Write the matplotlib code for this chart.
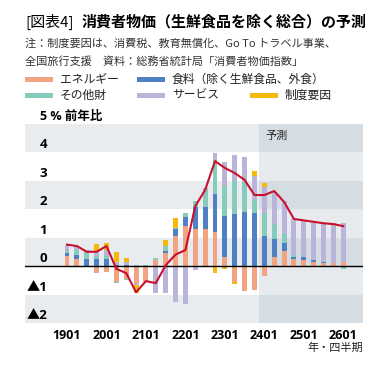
import matplotlib.pyplot as plt
from matplotlib.patches import Rectangle
import numpy as np

plt.rcParams['font.family'] = ['Noto Sans CJK JP', 'DejaVu Sans']

# quarters 2019Q1 .. 2026Q1
quarters = ['1901', '1902', '1903', '1904', '2001', '2002', '2003', '2004',
            '2101', '2102', '2103', '2104', '2201', '2202', '2203', '2204',
            '2301', '2302', '2303', '2304', '2401', '2402', '2403', '2404',
            '2501', '2502', '2503', '2504', '2601']
tick_labels = ['1901', '2001', '2101', '2201', '2301', '2401', '2501', '2601']

# contributions (% pt)
energy = [0.35, 0.25, -0.05, -0.25, -0.2, -0.55, -0.45, -0.6, -0.55, 0.22,
          0.47, 1.05, 1.4, 1.3, 1.3, 1.18, 0.3, -0.55, -0.88, -0.85,
          -0.35, 0.3, 0.53, 0.25, 0.2, 0.15, 0.1, 0.1, 0.15]
food = [0.1, 0.15, 0.25, 0.25, 0.25, 0.05, 0.05, 0.0, 0.0, 0.0,
        0.05, 0.25, 0.33, 0.77, 0.77, 1.33, 1.45, 1.81, 1.88, 1.85,
        1.05, 0.63, 0.29, 0.05, 0.1, 0.05, 0.05, 0.0, 0.0]
other = [0.08, 0.15, 0.2, 0.1, 0.1, -0.05, -0.05, 0.05, 0.05, 0.07,
         0.17, 0.05, 0.12, 0.2, 0.6, 1.2, 1.05, 1.17, 1.05, 0.45,
         0.81, 0.53, 0.29, 0.1, 0.0, 0.0, 0.0, -0.05, -0.12]
services = [0.22, 0.15, 0.1, 0.18, 0.2, 0.1, 0.1, -0.05, 0.0, -0.93,
            -0.93, -1.28, -1.33, -0.13, 0.05, 0.25, 0.84, 0.93, 0.88, 0.85,
            0.91, 1.12, 1.17, 1.25, 1.3, 1.35, 1.35, 1.4, 1.37]
policy = [0, 0, 0, 0.25, 0.25, 0.35, 0.12, -0.28, 0, 0,
          0.22, 0.35, 0, 0, 0, -0.23, -0.12, -0.07, 0, 0.18,
          0.14, 0, 0, 0, 0, 0, 0, 0, 0]
# core CPI (y/y %)
core = [0.75, 0.7, 0.5, 0.5, 0.7, -0.1, -0.25, -0.92, -0.53, -0.6,
        0.03, 0.4, 0.56, 2.1, 2.67, 3.68, 3.44, 3.26, 3.02, 2.49,
        2.49, 2.63, 2.25, 1.65, 1.6, 1.55, 1.5, 1.47, 1.4]

names = ['エネルギー', '食料（除く生鮮食品、外食）', 'その他財', 'サービス', '制度要因']
colors = ['#f2a482', '#4f80c3', '#86cbbb', '#bab4da', '#f5b90a']
series = [energy, food, other, services, policy]

W, H = 387, 373
fig = plt.figure(figsize=(W / 100, H / 100), dpi=100)
ax = fig.add_axes([25 / W, 1 - 323 / H, 338 / W, 199.5 / H])

x = np.arange(len(quarters))
x0, x1 = -4.26, 30.0
fc = 19.5  # forecast start
ax.set_xlim(x0, x1)
ax.set_ylim(-2, 5)

# background bands
for k in range(-2, 5):
    dark = (k % 2 == 0)
    ax.add_patch(Rectangle((x0, k), fc - x0, 1, color='#e9ecef' if dark else 'white', lw=0, zorder=0))
    ax.add_patch(Rectangle((fc, k), x1 - fc, 1, color='#d6dde2' if dark else '#e8ebee', lw=0, zorder=0))

pos = np.zeros(len(x))
neg = np.zeros(len(x))
for vals, c in zip(series, colors):
    v = np.array(vals, dtype=float)
    p = np.where(v > 0, v, 0)
    n = np.where(v < 0, v, 0)
    ax.bar(x, p, 0.5, bottom=pos, color=c, lw=0, zorder=2)
    ax.bar(x, n, 0.5, bottom=neg, color=c, lw=0, zorder=2)
    pos += p
    neg += n

ax.axhline(0, color='black', lw=1.0, zorder=3)
ax.plot(x, core, color='#c8102e', lw=1.5, zorder=4)

for s in ax.spines.values():
    s.set_visible(False)
ax.set_yticks([])
ax.set_xticks(x[::4])
ax.set_xticklabels(tick_labels, fontsize=9, fontweight='bold', family=['Open Sans', 'DejaVu Sans'])
ax.tick_params(axis='x', length=0, pad=4)

# y labels inside the plot
lx = 22 / 338
for v in range(-2, 5):
    lab = str(v) if v >= 0 else '▲' + str(-v)
    ax.text(lx, v + 0.03, lab, transform=ax.get_yaxis_transform(), ha='right', va='bottom',
            fontsize=9.5, fontweight='bold', family=['Open Sans', 'Noto Sans CJK JP'])
ax.text(15 / 338, 5.02, '5 % 前年比', transform=ax.get_yaxis_transform(), ha='left', va='bottom',
        fontsize=9, fontweight='bold', family=['Open Sans', 'Noto Sans CJK JP'], clip_on=False)
ax.text(fc + 0.6, 4.55, '予測', fontsize=8, va='center', ha='left', color='#222222')

fig.text(363 / W, 1 - 348 / H, '年・四半期', ha='right', va='center', fontsize=8, color='#222222')

# title and notes
fig.text(25 / W, 1 - 22 / H, '[図表4]', ha='left', va='center', fontsize=10.8)
fig.text(82 / W, 1 - 22 / H, '消費者物価（生鮮食品を除く総合）の予測', ha='left', va='center',
         fontsize=10.8, fontweight='bold')
fig.text(25 / W, 1 - 44 / H, '注：制度要因は、消費税、教育無償化、Go To トラベル事業、',
         ha='left', va='center', fontsize=8.0, color='#333333')
fig.text(25 / W, 1 - 62 / H, '全国旅行支援　資料：総務省統計局「消費者物価指数」',
         ha='left', va='center', fontsize=8.0, color='#333333')

# legend
leg_pos = [(25, 79), (137, 79), (25, 95), (137, 95), (250, 95)]
for (lxp, lyp), name, c in zip(leg_pos, names, colors):
    fig.patches.append(Rectangle((lxp / W, 1 - (lyp + 2.5) / H), 28 / W, 5 / H,
                                 color=c, lw=0, transform=fig.transFigure, figure=fig))
    fig.text((lxp + 35) / W, 1 - lyp / H, name, ha='left', va='center', fontsize=8.5, color='#222222')

fig.savefig('out.png', dpi=100)
